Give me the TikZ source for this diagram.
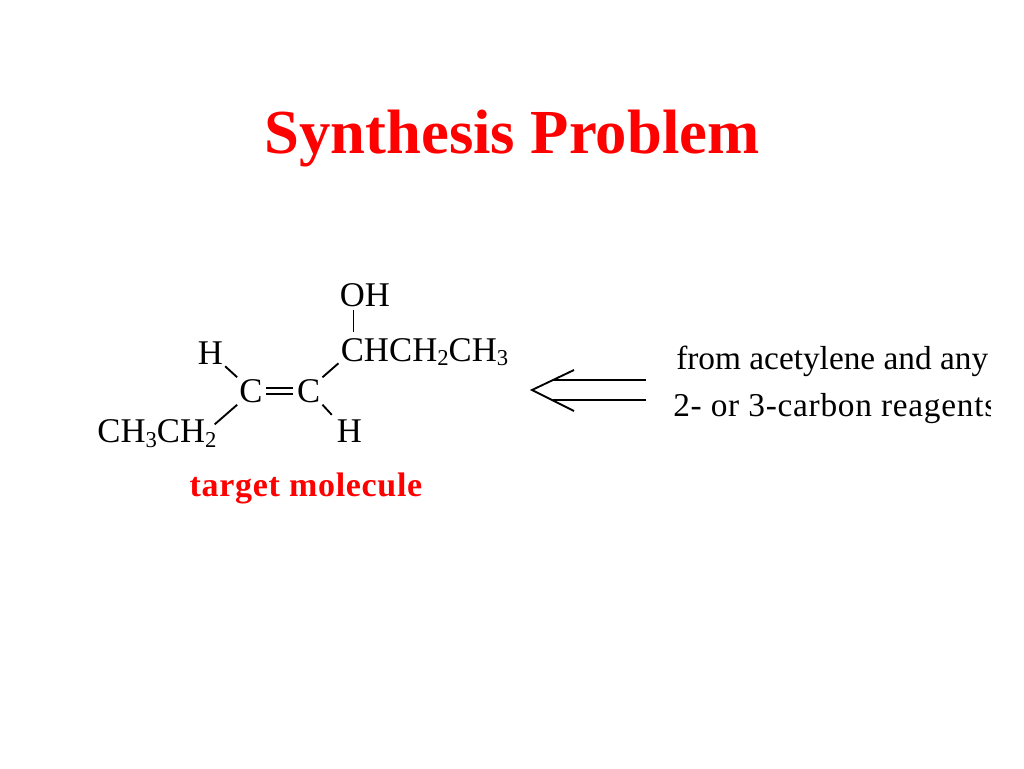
\documentclass[tikz,border=0pt]{standalone}
\usepackage{fontspec}
\setmainfont{Liberation Serif}
\usetikzlibrary{positioning,calc}
\definecolor{titlered}{RGB}{255, 0, 0}
\newcommand{\lowsub}[1]{\raisebox{-3.4pt}{\fontsize{17}{17}\selectfont #1}}

\begin{document}
\begin{tikzpicture}[
            x=0.75pt, y=-0.75pt,
            atom/.style={
                rectangle, inner sep=1.5pt,
                text height=17.2pt, text depth=0pt,
                font=\fontsize{26}{26}\selectfont
            },
            bond/.style={line width=1.4pt},
            reagent/.style={anchor=base west, inner sep=0pt, font=\fontsize{25}{25}\selectfont},
            heading/.style={inner sep=0pt, text=titlered, font=\bfseries\fontsize{47}{47}\selectfont},
        ]

            \useasboundingbox (0,0) rectangle (1024,768);
            \fill[white] (0,0) rectangle (1024,768);

            \node [heading] (title) at (512,139) {Synthesis Problem};

            \node [atom] (c1) at (251,391) {C};
            \node [atom] (c2) [ right= 22.5pt of c1 ] {C};
            \node [atom] (h1) [ above left= 8.25pt and 9pt of c1 ] {H};
            \node [atom] (h2) [ below right= 9.75pt and 9pt of c2 ] {H};
            \node [atom] (ch) [ above right= 10.5pt and 12pt of c2 ] {CH};
            \node [atom] (chain) [ right= -3.2pt of ch ] {CH\lowsub{2}CH\lowsub{3}};
            \node [atom] (oh) [ above= 20.5pt of ch ] {OH};
            \node [atom] (ethyl) [ below left= 9.75pt and 13.9pt of c1 ] {CH\lowsub{3}CH\lowsub{2}};

            \draw[bond, shorten <=1.5pt, shorten >=3pt] ([xshift=-8.5pt]oh.south) -- ([xshift=-8.5pt]ch.north);
            \draw[bond] (h1.south east) -- (c1.north west);
            \draw[bond] (c1.south west) -- ([xshift=-3pt,yshift=-5pt]ethyl.north east);
            \draw[bond] (c2.north east) -- (ch.south west);
            \draw[bond, shorten >=3pt] (c2.south east) -- (h2.north west);
            \draw[line width=1.4pt, double, double distance=3.6pt, shorten <=1pt, shorten >=1pt] (c1) -- (c2);

            \node [heading, font=\bfseries\fontsize{25.5}{25.5}\selectfont\addfontfeatures{LetterSpace=2}] (target) at (306,488) {target molecule};

            \coordinate (tip) at (532,390);
            \coordinate (headtop) at (574,370);
            \coordinate (headbot) at (574,411);
            \coordinate (line1a) at (646,380);
            \coordinate (line1b) at (553,380);
            \coordinate (line2a) at (646,400);
            \coordinate (line2b) at (553,400);
            \draw[bond] (headtop) -- (tip) -- (headbot);
            \draw[bond] (line1a) -- (line1b);
            \draw[bond] (line2a) -- (line2b);

            \begin{scope}
                \clip (600,330) rectangle (990,430);
                \node [reagent] (from) at (676,369) {from acetylene and any};
                \node [reagent, font=\fontsize{25}{25}\selectfont\addfontfeatures{LetterSpace=2.2}] (carbon) at (673,416) {2- or 3-carbon reagents};
            \end{scope}

        \end{tikzpicture}
\end{document}
